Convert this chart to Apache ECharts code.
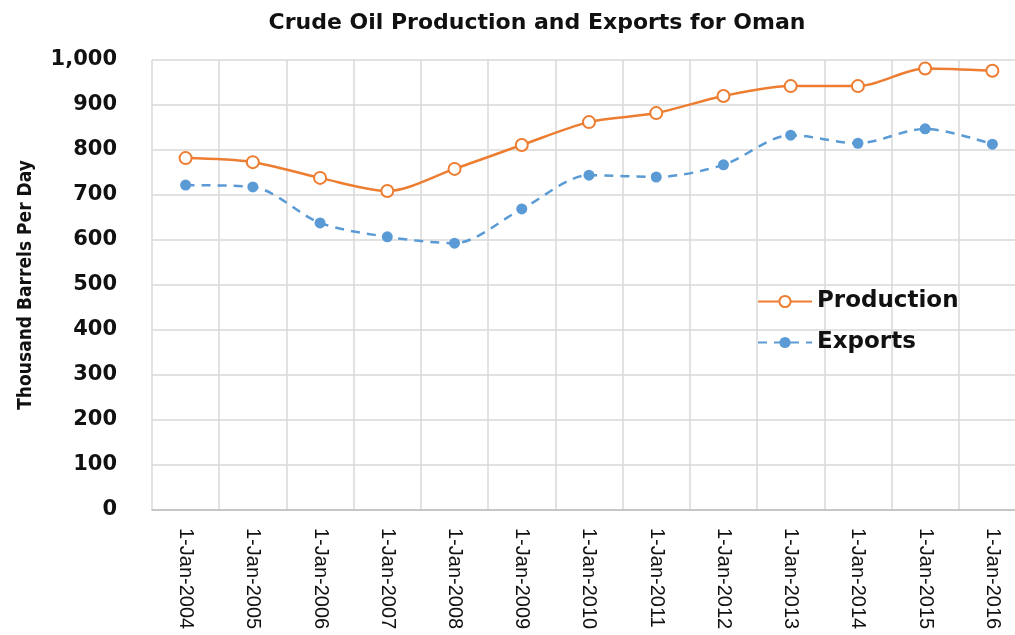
<!DOCTYPE html>
<html>
<head>
<meta charset="utf-8">
<script src="https://cdn.jsdelivr.net/npm/echarts@6/dist/echarts.min.js"></script>
<style>
  html, body { margin: 0; padding: 0; background: #fff; }
  #chart { width: 1015px; height: 635px; }
</style>
</head>
<body>
<div id="chart"></div>
<script>
// dados
var years = ['1-Jan-2004', '1-Jan-2005', '1-Jan-2006', '1-Jan-2007', '1-Jan-2008', '1-Jan-2009',
  '1-Jan-2010', '1-Jan-2011', '1-Jan-2012', '1-Jan-2013', '1-Jan-2014', '1-Jan-2015', '1-Jan-2016'];
var production = [782, 773, 738, 709, 758, 811, 862, 882, 920, 942, 942, 981, 976];
var exportsData = [722, 718, 638, 607, 593, 669, 744, 740, 767, 833, 815, 847, 813];

var chart = echarts.init(document.getElementById('chart'));
var option = {
  animation: false,
  title: {
    text: 'Crude Oil Production and Exports for Oman',
    left: 532,
    textAlign: 'center',
    top: 7,
    textStyle: { fontFamily: 'DejaVu Sans', fontWeight: 'bold', fontSize: 22, color: '#111' }
  },
  legend: {
    orient: 'vertical',
    left: 752,
    top: 285,
    itemGap: 18,
    itemWidth: 54,
    itemHeight: 14,
    textStyle: { fontFamily: 'DejaVu Sans', fontWeight: 'bold', fontSize: 23, color: '#111' },
    data: ['Production', 'Exports']
  },
  grid: { left: 152, right: -11, top: 60, bottom: 125, outerBoundsMode: 'none' },
  xAxis: {
    type: 'category',
    data: years,
    boundaryGap: true,
    axisLine: { lineStyle: { color: '#bfbfbf', width: 1.5 } },
    axisTick: { show: false },
    splitLine: { show: true, lineStyle: { color: '#d9d9d9', width: 1.5 } },
    axisLabel: {
      rotate: -90,
      margin: 18,
      fontFamily: 'Liberation Sans',
      fontSize: 20,
      color: '#111'
    }
  },
  yAxis: {
    type: 'value',
    min: 0,
    max: 1000,
    interval: 100,
    name: 'Thousand Barrels Per Day',
    nameLocation: 'middle',
    nameGap: 116,
    nameTextStyle: { fontFamily: 'DejaVu Sans Condensed', fontWeight: 'bold', fontSize: 19, color: '#111' },
    axisLine: { show: false },
    axisTick: { show: false },
    splitLine: { lineStyle: { color: '#d9d9d9', width: 1.5 } },
    axisLabel: {
      margin: 35,
      fontFamily: 'DejaVu Sans',
      fontWeight: 'bold',
      fontSize: 21,
      color: '#111',
      formatter: function (v) { return v.toLocaleString('en-US'); }
    }
  },
  series: [
    {
      name: 'Production',
      type: 'line',
      data: production,
      smooth: 0.3,
      symbol: 'emptyCircle',
      symbolSize: 12,
      lineStyle: { color: '#ED7D31', width: 2.5 },
      itemStyle: { color: '#ED7D31', borderWidth: 2.5 }
    },
    {
      name: 'Exports',
      type: 'line',
      data: exportsData,
      smooth: 0.3,
      symbol: 'circle',
      symbolSize: 11,
      lineStyle: { color: '#5B9BD5', width: 2.5, type: [9, 7] },
      itemStyle: { color: '#5B9BD5' }
    }
  ]
};
chart.setOption(option);
</script>
</body>
</html>
